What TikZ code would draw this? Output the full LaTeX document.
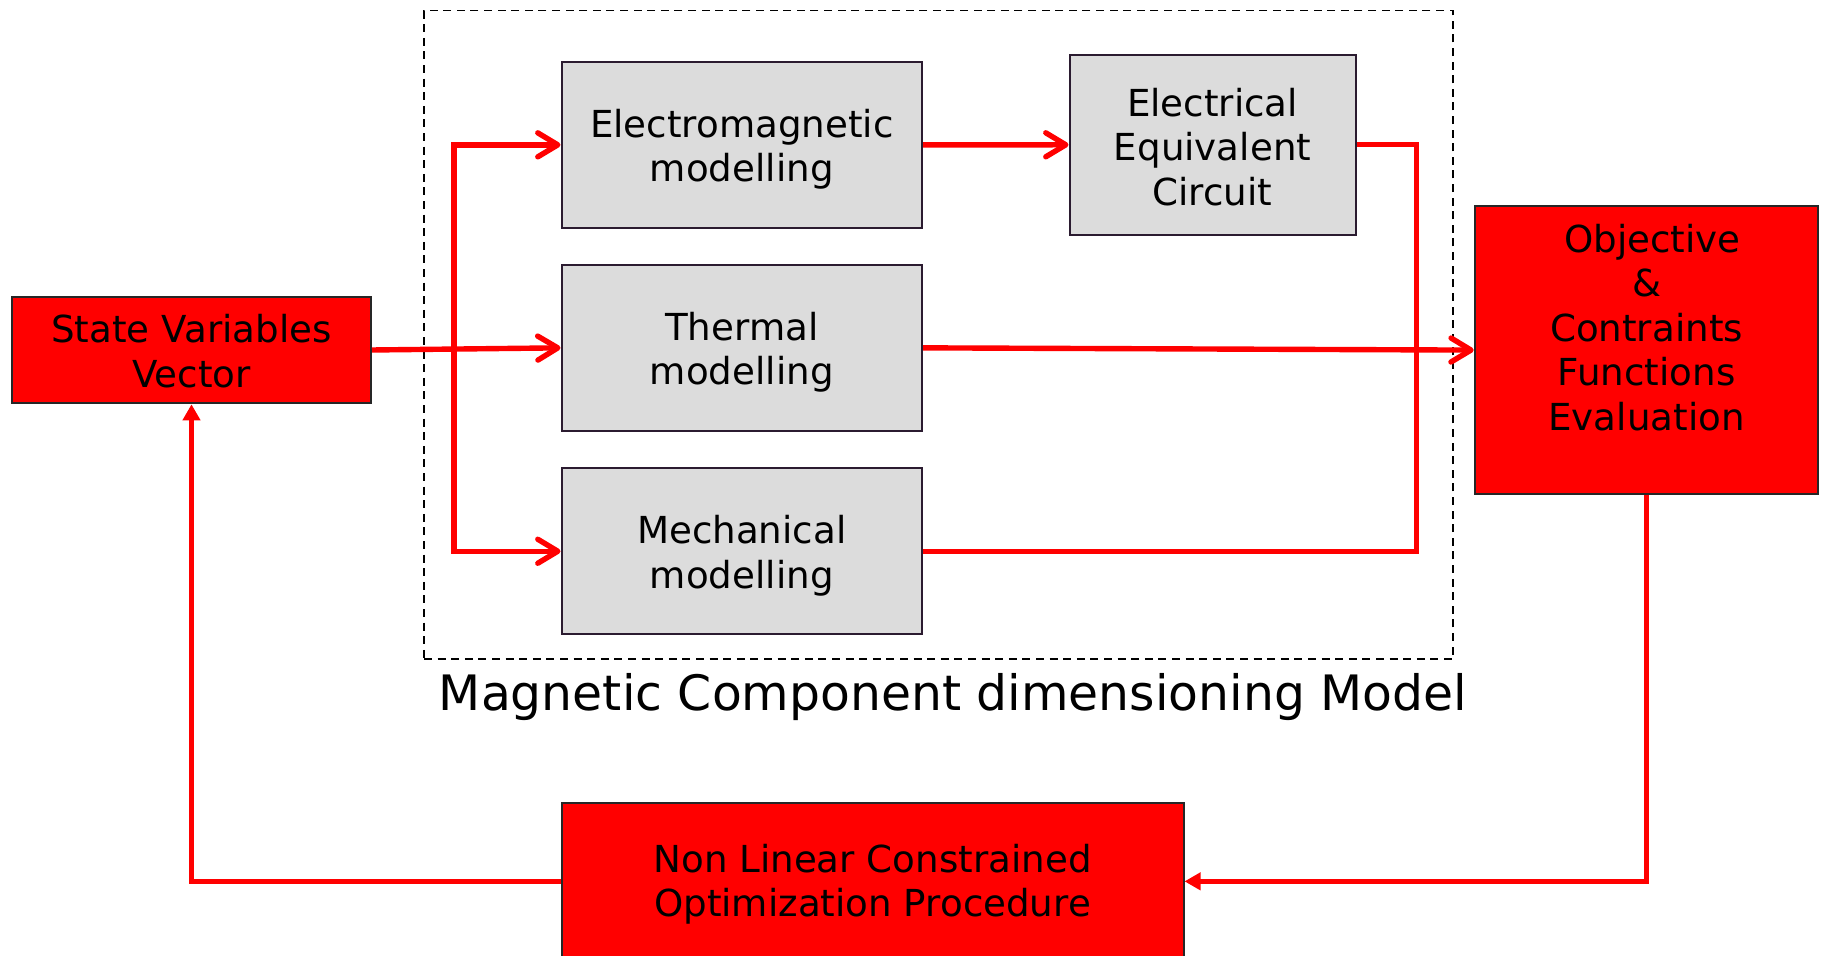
\documentclass[tikz,border=0pt]{standalone}
\usepackage{fontspec}
\setmainfont{DejaVu Sans}
\usetikzlibrary{arrows.meta}
\definecolor{boxgrey}{HTML}{DCDCDC}
\definecolor{boxedge}{HTML}{2B1B30}
\definecolor{pred}{HTML}{FF0000}
\begin{document}
\begin{tikzpicture}[x=0.5pt,y=-0.5pt,
  txt/.style={font=\fontsize{18.6pt}{22.3pt}\selectfont, align=center, text=black},
  greybox/.style={txt, draw=boxedge, fill=boxgrey, line width=1pt, inner sep=0pt, text height=41pt},
  redbox/.style={txt, draw=black!85, fill=pred, line width=1pt, inner sep=0pt},
  mline/.style={draw=pred, line width=2.7pt, line join=miter},
  marrow/.style={mline, -{Straight Barb[length=10pt,width=12pt,round]}},
  fbarrow/.style={draw=pred, line width=2.4pt, line join=miter, -{Triangle[length=8pt,width=8.5pt]}},
  dbox/.style={draw=black, line width=0.8pt, dash pattern=on 4pt off 2.8pt, inner sep=0pt}
]
\useasboundingbox (0,0) rectangle (1823,956);
\clip (0,0) rectangle (1823,956);

% dashed model frame
\node[dbox, minimum width=514.5pt, minimum height=324.2pt] (frame) at (938.5,334.9) {};
\node[anchor=base, font=\fontsize{24.4pt}{29pt}\selectfont] (lbl) at (953,710) {Magnetic Component dimensioning Model};

% boxes
\node[greybox, minimum width=180.25pt, minimum height=83.1pt] (em) at (741.75,144.85) {Electromagnetic\\modelling};
\node[greybox, minimum width=180.25pt, minimum height=83.1pt] (th) at (741.75,347.85) {Thermal\\modelling};
\node[greybox, minimum width=180.25pt, minimum height=83.1pt] (me) at (741.75,551.25) {Mechanical\\modelling};
\node[greybox, text height=61pt, minimum width=143pt, minimum height=90.2pt] (eec) at (1212.5,144.8) {Electrical\\Equivalent\\Circuit};

\node[redbox, text height=37.6pt, minimum width=179.5pt, minimum height=53.3pt] (sv) at (191.5,350) {State Variables\\Vector};
\node[redbox, minimum width=171.65pt, minimum height=143.7pt] (obj) at (1646.35,350.1) {};
\node[txt] (objtxt) at (1646.5,327.5) {\hspace*{0.318em}Objective\\\&\\Contraints\\Functions\\Evaluation};
\node[redbox, text height=39.3pt, minimum width=311pt, minimum height=78.65pt] (nl) at (872.5,881.35) {Non Linear Constrained\\Optimization Procedure};

% bus coordinates
\coordinate (bt) at (454,0 |- em.west);
\coordinate (bb) at (454,0 |- me.west);

% model connectors
\draw[marrow] (bb) -- (bt) -- (em.west);
\draw[marrow] (bt) -- (bb) -- (me.west);
\draw[marrow] (sv.east) -- (th.west);
\draw[marrow] (em.east) -- (eec.west);
\draw[mline] (eec.east) -- ++(60,0) |- (me.east);
\draw[marrow] (th.east) -- (obj.west);

% feedback loop
\draw[fbarrow] (obj.south) |- (nl.east);
\draw[fbarrow] (nl.west) -| (sv.south);
\end{tikzpicture}
\end{document}
